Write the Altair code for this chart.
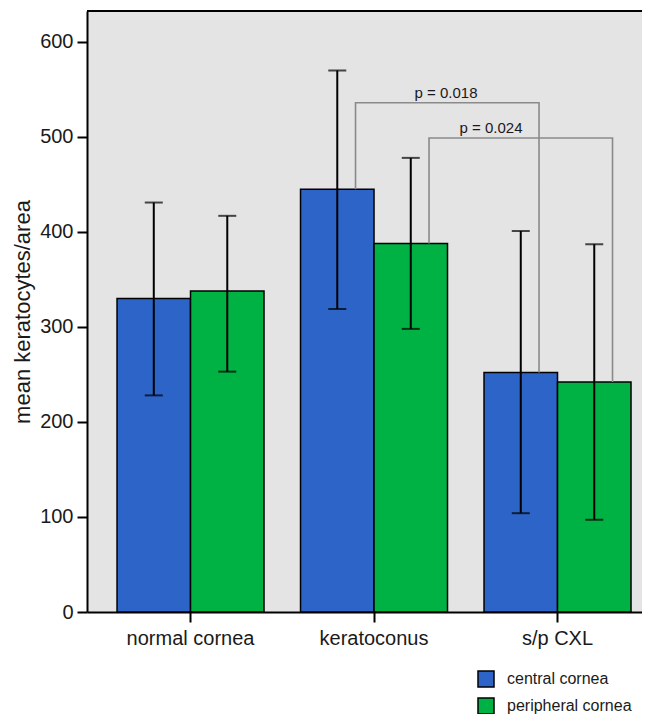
import altair as alt
import pandas as pd

# ---- data ----
groups = ["normal cornea", "keratoconus", "s/p CXL"]
series = ["central cornea", "peripheral cornea"]
mean_central = [330, 445, 252]
mean_peripheral = [338, 388, 242]
low_central = [228, 319, 104]
high_central = [431, 570, 401]
low_peripheral = [253, 298, 97]
high_peripheral = [417, 478, 387]

# significance brackets: (from group, to group, series, bracket height, label)
bracket_from = ["keratoconus", "keratoconus"]
bracket_to = ["s/p CXL", "s/p CXL"]
bracket_series = ["central cornea", "peripheral cornea"]
bracket_height = [536, 499]
bracket_label = ["p = 0.018", "p = 0.024"]

colors = ["#2D64C8", "#00B244"]
FONT = "Liberation Sans"
W, H = 555, 601

rows = []
for i, g in enumerate(groups):
    rows.append(dict(group=g, series=series[0], mean=mean_central[i],
                     lo=low_central[i], hi=high_central[i]))
    rows.append(dict(group=g, series=series[1], mean=mean_peripheral[i],
                     lo=low_peripheral[i], hi=high_peripheral[i]))
df = pd.DataFrame(rows)

def mean_of(g, s):
    return float(df[(df.group == g) & (df.series == s)]["mean"].iloc[0])

x_scale = alt.Scale(domain=groups, paddingInner=0.199, paddingOuter=0.1118, align=0.732)
xo_scale = alt.Scale(domain=series, paddingInner=0, paddingOuter=0)
y_scale = alt.Scale(domain=[0, 632.6], nice=False, zero=True)

x_enc = alt.X("group:N", scale=x_scale, sort=groups,
              axis=alt.Axis(title=None, labelAngle=0, tickSize=10, labelPadding=6,
                            labelFontSize=20))
xo_enc = alt.XOffset("series:N", scale=xo_scale, sort=series)

base = alt.Chart(df)

bars = base.mark_bar(stroke="black", strokeWidth=1.5).encode(
    x=x_enc,
    xOffset=xo_enc,
    y=alt.Y("mean:Q", scale=y_scale,
            axis=alt.Axis(title="mean keratocytes/area", values=[0, 100, 200, 300, 400, 500, 600],
                          tickSize=10, labelPadding=4, labelFontSize=20, titleFontSize=22,
                          titlePadding=5, grid=False)),
    color=alt.Color("series:N", scale=alt.Scale(domain=series, range=colors),
                    legend=alt.Legend(title=None, orient="none", legendX=390, legendY=659,
                                      symbolType="square", symbolSize=256,
                                      symbolStrokeColor="black", symbolStrokeWidth=1.5,
                                      labelFontSize=16, labelFont=FONT, labelColor="#1a1a1a",
                                      rowPadding=5, labelOffset=12, padding=0)),
)

err = base.mark_rule(color="black", strokeWidth=2).encode(
    x=alt.X("group:N", scale=x_scale, sort=groups),
    xOffset=xo_enc, y="lo:Q", y2="hi:Q")
cap_lo = base.mark_tick(color="black", thickness=2, size=18, orient="horizontal").encode(
    x=alt.X("group:N", scale=x_scale, sort=groups), xOffset=xo_enc, y="lo:Q")
cap_hi = base.mark_tick(color="black", thickness=2, size=18, orient="horizontal").encode(
    x=alt.X("group:N", scale=x_scale, sort=groups), xOffset=xo_enc, y="hi:Q")

layers = [bars, err, cap_lo, cap_hi]

# brackets, legs offset slightly right of bar centres
leg_offsets = {"central cornea": -18.5, "peripheral cornea": 55}
label_dx = [72, 117]
for k in range(len(bracket_label)):
    g1, g2, s, h = bracket_from[k], bracket_to[k], bracket_series[k], bracket_height[k]
    bdf = pd.DataFrame({
        "group": [g1, g1, g2, g2],
        "y": [mean_of(g1, s), h, h, mean_of(g2, s)],
        "step": [0, 1, 2, 3],
    })
    line = alt.Chart(bdf).mark_line(color="#8A8A8A", strokeWidth=1.6,
                                    xOffset=leg_offsets[s]).encode(
        x=alt.X("group:N", scale=x_scale, sort=groups),
        y="y:Q", order="step:Q")
    tdf = pd.DataFrame({"group": [g1], "y": [h], "label": [bracket_label[k]]})
    txt = alt.Chart(tdf).mark_text(font=FONT, fontSize=15, color="#1a1a1a",
                                   dx=label_dx[k], dy=-10, align="center").encode(
        x=alt.X("group:N", scale=x_scale, sort=groups),
        y="y:Q", text="label:N")
    layers += [line, txt]

frame = alt.Chart(pd.DataFrame({"a": [0]})).mark_rule(color="black", strokeWidth=2).encode(
    x=alt.value(0), x2=alt.value(W), y=alt.value(0))
layers.append(frame)

chart = alt.layer(*layers).properties(
    width=W, height=H,
    autosize=alt.AutoSizeParams(type="none"),
    padding={"left": 79, "top": 3, "right": 0, "bottom": 102},
).configure_view(fill="#E4E4E4", strokeWidth=0).configure_axis(
    labelFont=FONT, titleFont=FONT, labelColor="#1a1a1a", titleColor="#1a1a1a",
    domainColor="black", domainWidth=2, tickColor="black", tickWidth=2,
    titleFontWeight="normal",
)

chart.save("out.html", embed_options={"renderer": "svg", "actions": False})
